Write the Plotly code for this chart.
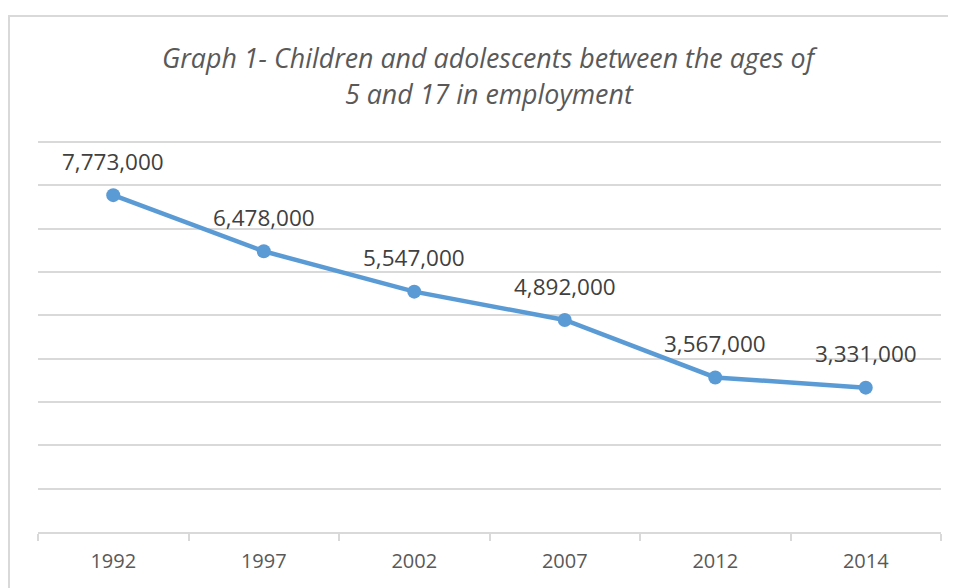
import plotly.graph_objects as go

years = ["1992", "1997", "2002", "2007", "2012", "2014"]
workers = [7773000, 6478000, 5547000, 4892000, 3567000, 3331000]
title_lines = ["Graph 1- Children and adolescents between the ages of", "5 and 17 in employment"]

# page body has an 8px margin; the layout is compensated for it
OFF = 8
W, H = 956 - OFF, 588 - OFF
PAD_TOP = 5  # extra px above the top gridline so it is not culled
L, R, T, B = 38 - OFF, 15, 142 - OFF - PAD_TOP, 56
plot_w = W - L - R
plot_h = H - T - B
y_top = 9000000 * plot_h / (plot_h - PAD_TOP)

FONT = "Open Sans"
LINE_COLOR = "#5B9BD5"
GRID = "#d9d9d9"

fig = go.Figure()
fig.add_trace(go.Scatter(
    x=years, y=workers, mode="lines+markers",
    line=dict(color=LINE_COLOR, width=4.5),
    marker=dict(color=LINE_COLOR, size=14),
    hoverinfo="skip", showlegend=False,
))

annotations = []
for i, v in enumerate(workers):
    annotations.append(dict(
        x=i, y=v, xref="x", yref="y", text=f"{v:,}", showarrow=False,
        yanchor="middle", xanchor="center", yshift=34,
        font=dict(family=FONT, size=22.5, color="#404040"),
    ))

title_px = [57 - OFF, 93 - OFF]
for line, py in zip(title_lines, title_px):
    annotations.append(dict(
        x=0.5, y=(H - B - py) / plot_h, xref="paper", yref="paper",
        text=f"<i>{line}</i>", showarrow=False, xanchor="center", yanchor="middle",
        font=dict(family=FONT, size=26.8, color="#595959"),
    ))

fig.update_layout(
    width=W, height=H,
    margin=dict(l=L, r=R, t=T, b=B),
    paper_bgcolor="white", plot_bgcolor="white",
    annotations=annotations,
    shapes=[dict(
        type="rect", xref="paper", yref="paper",
        x0=(1 - L) / plot_w, x1=(W + 20 - L) / plot_w,
        y0=-(B + 20) / plot_h, y1=(H - B - 8) / plot_h,
        line=dict(color=GRID, width=2), fillcolor="rgba(0,0,0,0)", layer="below",
    )],
    xaxis=dict(
        type="category", range=[-0.5, len(years) - 0.5],
        showgrid=False, showline=True, linecolor=GRID, linewidth=1.5,
        ticks="outside", tickson="boundaries", ticklen=7, tickcolor=GRID, tickwidth=1.5,
        ticklabelstandoff=10,
        tickfont=dict(family=FONT, size=20, color="#595959"),
        zeroline=False, fixedrange=True,
    ),
    yaxis=dict(
        range=[0, y_top], dtick=1000000, showticklabels=False,
        showgrid=True, gridcolor=GRID, gridwidth=1.5,
        zeroline=False, showline=False, fixedrange=True,
    ),
)

fig.write_html("out.html")
